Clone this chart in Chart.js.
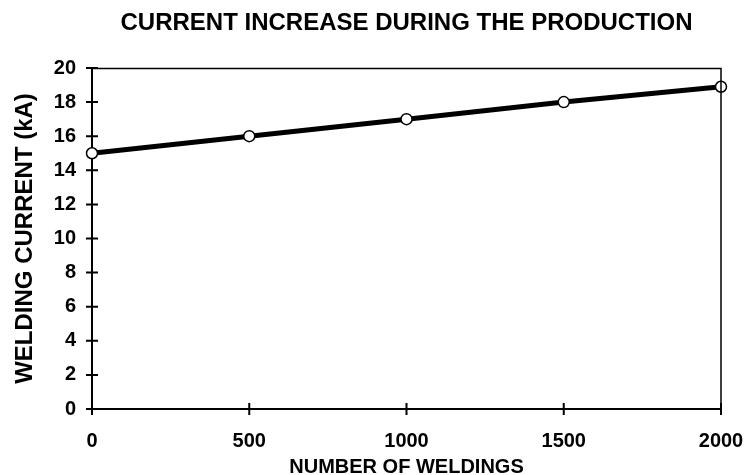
<!DOCTYPE html>
<html>
<head>
<meta charset="utf-8">
<script src="https://cdn.jsdelivr.net/npm/chart.js@4/dist/chart.umd.min.js"></script>
<style>
html,body{margin:0;padding:0;background:#fff;}
#wrap{width:747px;height:475px;}
</style>
</head>
<body>
<div id="wrap"><canvas id="c" width="747" height="475"></canvas></div>
<script>
const weldings = [0, 500, 1000, 1500, 2000];
const currentKA = [15, 16, 17, 18, 18.9];
const xTicks = [0, 500, 1000, 1500, 2000];
const yTicks = [0, 2, 4, 6, 8, 10, 12, 14, 16, 18, 20];

const FONT = "'Liberation Sans', Arial, sans-serif";

const crossTicks = {
  id: 'crossTicks',
  afterDraw(chart) {
    const {ctx, chartArea: a, scales: {x, y}} = chart;
    ctx.save();
    ctx.strokeStyle = '#000';
    ctx.lineWidth = 1.5;
    ctx.beginPath();
    ctx.moveTo(a.left, a.top + 0.5);
    ctx.lineTo(a.right, a.top + 0.5);
    ctx.lineTo(a.right, a.bottom);
    ctx.stroke();
    ctx.lineWidth = 2;
    ctx.beginPath();
    yTicks.forEach(v => {
      const py = y.getPixelForValue(v);
      ctx.moveTo(a.left - 6, py);
      ctx.lineTo(a.left + 6, py);
    });
    xTicks.forEach(v => {
      const px = x.getPixelForValue(v);
      ctx.moveTo(px, a.bottom - 6);
      ctx.lineTo(px, a.bottom + 6);
    });
    ctx.stroke();
    ctx.restore();
  }
};

new Chart(document.getElementById('c'), {
  type: 'line',
  data: {
    datasets: [{
      data: weldings.map((w, i) => ({x: w, y: currentKA[i]})),
      borderColor: '#000',
      borderWidth: 5,
      pointRadius: 5.5,
      pointBorderWidth: 1.5,
      pointBackgroundColor: '#fff',
      pointBorderColor: '#000',
      tension: 0,
      clip: false
    }]
  },
  options: {
    responsive: false,
    animation: false,
    devicePixelRatio: 1,
    layout: {padding: {left: 8, right: 26, top: 0, bottom: 0}},
    plugins: {
      legend: {display: false},
      tooltip: {enabled: false},
      title: {
        display: true,
        fullSize: false,
        text: 'CURRENT INCREASE DURING THE PRODUCTION',
        color: '#000',
        font: {family: FONT, size: 24, weight: 'bold', lineHeight: 1.2},
        padding: {top: 8.6, bottom: 30.6}
      }
    },
    scales: {
      x: {
        type: 'linear',
        min: 0, max: 2000,
        afterBuildTicks: s => { s.ticks = xTicks.map(v => ({value: v})); },
        afterFit: s => { s.height = 475 - 409; s.paddingLeft = 0; s.paddingRight = 24; },
        grid: {display: false, drawTicks: false},
        border: {display: true, color: '#000', width: 2},
        ticks: {color: '#000', padding: 20, font: {family: FONT, size: 20, weight: 'bold'},
                callback: v => String(v)},
        title: {
          display: true,
          text: 'NUMBER OF WELDINGS',
          color: '#000',
          font: {family: FONT, size: 20, weight: 'bold', lineHeight: 1},
          padding: {top: 0, bottom: -2}
        }
      },
      y: {
        min: 0, max: 20,
        afterBuildTicks: s => { s.ticks = yTicks.map(v => ({value: v})); },
        afterFit: s => { s.width = 92 - 8; },
        grid: {display: false, drawTicks: false},
        border: {display: true, color: '#000', width: 2},
        ticks: {color: '#000', padding: 16, font: {family: FONT, size: 20, weight: 'bold'},
                callback: v => String(v)},
        title: {
          display: true,
          text: 'WELDING CURRENT (kA)',
          color: '#000',
          font: {family: FONT, size: 24, weight: 'bold', lineHeight: 1.2},
          padding: {top: 2.6, bottom: 0}
        }
      }
    }
  },
  plugins: [crossTicks]
});
</script>
</body>
</html>
